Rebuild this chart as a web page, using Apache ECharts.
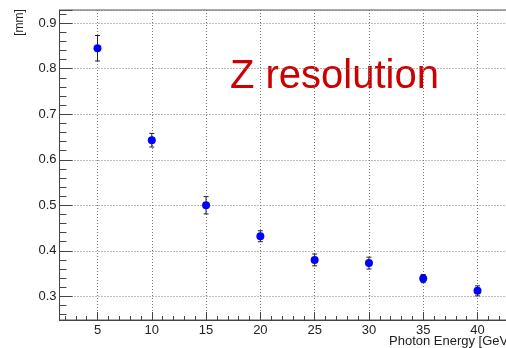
<!DOCTYPE html>
<html>
<head>
<meta charset="utf-8">
<script src="https://cdn.jsdelivr.net/npm/echarts@6/dist/echarts.min.js"></script>
<style>
html,body{margin:0;padding:0;background:#fff;overflow:hidden;width:506px;height:348px;}
#c{width:516px;height:348px;}
</style>
</head>
<body>
<div id="c"></div>
<script>
// ---- data ----
var energies   = [5, 10, 15, 20, 25, 30, 35, 40];
var resolution = [0.845, 0.643, 0.500, 0.432, 0.380, 0.373, 0.339, 0.312];
var errors     = [0.028, 0.015, 0.019, 0.012, 0.013, 0.013, 0.009, 0.011];
var xTickLabels = [5, 10, 15, 20, 25, 30, 35, 40];
var yTickLabels = [0.3, 0.4, 0.5, 0.6, 0.7, 0.8, 0.9];
var titleText = 'Z resolution';
var xTitle = 'Photon Energy [GeV]';
var yTitle = '[mm]';

var pts = energies.map(function (e, i) { return [e, resolution[i]]; });
var errData = energies.map(function (e, i) { return [e, resolution[i] - errors[i], resolution[i] + errors[i]]; });

var font = 'Liberation Sans, Arial, sans-serif';
var chart = echarts.init(document.getElementById('c'), null, {renderer: 'canvas'});

function inList(list, v) {
  for (var i = 0; i < list.length; i++) if (Math.abs(list[i] - v) < 1e-6) return true;
  return false;
}

chart.setOption({
  animation: false,
  backgroundColor: '#ffffff',
  grid: {left: 59.5, top: 10, right: 0.5, bottom: 28, outerBoundsMode: 'none', show: true, borderColor: '#555', borderWidth: 1, backgroundColor: 'transparent'},
  xAxis: {
    type: 'value', min: 1.5, max: 43.5, splitNumber: 8,
    axisLine: {show: true, onZero: false, lineStyle: {color: '#444', width: 1}},
    axisTick: {show: true, inside: true, length: 8, lineStyle: {color: '#444'}},
    minorTick: {show: true, splitNumber: 5, length: 4, lineStyle: {color: '#444'}},
    splitLine: {show: true, lineStyle: {color: '#777', type: [1, 2], width: 1}},
    axisLabel: {
      margin: 4, color: '#222', fontFamily: font, fontSize: 13,
      showMinLabel: false, showMaxLabel: false,
      formatter: function (v) { return inList(xTickLabels, v) ? String(v) : ''; }
    }
  },
  yAxis: {
    type: 'value', min: 0.248, max: 0.929, splitNumber: 7,
    axisLine: {show: true, onZero: false, lineStyle: {color: '#444', width: 1}},
    axisTick: {show: true, inside: true, length: 13, lineStyle: {color: '#444'}},
    minorTick: {show: true, splitNumber: 5, length: 7, lineStyle: {color: '#444'}},
    splitLine: {show: true, lineStyle: {color: '#777', type: [1, 2], width: 1}},
    axisLabel: {
      margin: 3, color: '#222', fontFamily: font, fontSize: 13,
      showMinLabel: false, showMaxLabel: false,
      formatter: function (v) { return inList(yTickLabels, v) ? v.toFixed(1) : ''; }
    }
  },
  graphic: [
    {type: 'text', x: 230, y: 77, style: {text: titleText, fill: '#cc0000', font: '40px ' + font, textAlign: 'left', textVerticalAlign: 'middle'}},
    {type: 'text', x: 19.5, y: 22.5, rotation: Math.PI / 2, style: {text: yTitle, fill: '#222', font: '12px ' + font, textAlign: 'center', textVerticalAlign: 'middle'}},
    {type: 'text', x: 389, y: 341, style: {text: xTitle, fill: '#222', font: '13px ' + font, textAlign: 'left', textVerticalAlign: 'middle'}}
  ],
  series: [
    {
      type: 'custom',
      data: errData,
      z: 3,
      renderItem: function (params, api) {
        var x = api.value(0);
        var lo = api.coord([x, api.value(1)]);
        var hi = api.coord([x, api.value(2)]);
        var cap = 2.5;
        var st = {stroke: '#222', lineWidth: 1};
        return {
          type: 'group',
          children: [
            {type: 'line', shape: {x1: lo[0], y1: lo[1], x2: hi[0], y2: hi[1]}, style: st},
            {type: 'line', shape: {x1: lo[0] - cap, y1: lo[1], x2: lo[0] + cap, y2: lo[1]}, style: st},
            {type: 'line', shape: {x1: hi[0] - cap, y1: hi[1], x2: hi[0] + cap, y2: hi[1]}, style: st}
          ]
        };
      }
    },
    {
      type: 'scatter',
      data: pts,
      symbol: 'circle',
      symbolSize: 8,
      z: 4,
      itemStyle: {color: '#0000ff', opacity: 1}
    }
  ]
});
</script>
</body>
</html>
